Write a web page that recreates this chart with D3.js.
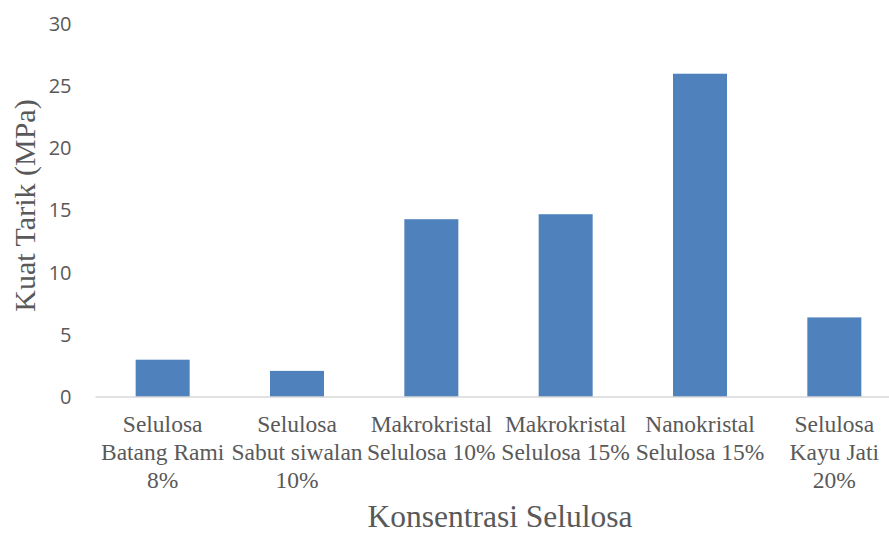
<!DOCTYPE html>
<html>
<head>
<meta charset="utf-8">
<script src="https://cdn.jsdelivr.net/npm/d3@7"></script>
<style>
  body { margin: 0; background: #fff; }
  svg { display: block; }
</style>
</head>
<body>
<div id="chart"></div>
<script>
// data
var categories = [
    ["Selulosa", "Batang Rami", "8%"],
    ["Selulosa", "Sabut siwalan", "10%"],
    ["Makrokristal", "Selulosa 10%"],
    ["Makrokristal", "Selulosa 15%"],
    ["Nanokristal", "Selulosa 15%"],
    ["Selulosa", "Kayu Jati", "20%"]
];
var values = [3.0, 2.1, 14.3, 14.7, 26.0, 6.4];
var yTicks = [0, 5, 10, 15, 20, 25, 30];
var yTitle = "Kuat Tarik (MPa)";
var xTitle = "Konsentrasi Selulosa";

var width = 889, height = 533;
var plotLeft = 95.5, plotRight = 901.5, plotTop = 24, plotBottom = 397;

var svg = d3.select("#chart").append("svg")
    .attr("width", width)
    .attr("height", height);

var x = d3.scaleBand()
    .domain(d3.range(categories.length))
    .range([plotLeft, plotRight])
    .paddingInner(0.598)
    .paddingOuter(0.299);

var y = d3.scaleLinear().domain([0, 30]).range([plotBottom, plotTop]);

// y axis labels only
var yAxis = d3.axisLeft(y).tickValues(yTicks).tickSize(0).tickPadding(24);
var gy = svg.append("g")
    .attr("transform", "translate(" + plotLeft + ",0)")
    .call(yAxis);
gy.select(".domain").remove();
gy.selectAll("text")
    .attr("fill", "#595959")
    .style("font-family", "'Open Sans', sans-serif")
    .style("font-size", "20px");

// bars
svg.selectAll("rect.bar")
    .data(values)
    .enter().append("rect")
    .attr("class", "bar")
    .attr("x", function (d, i) { return x(i); })
    .attr("width", x.bandwidth())
    .attr("y", function (d) { return y(d); })
    .attr("height", function (d) { return y(0) - y(d); })
    .attr("fill", "#4f81bd");

// baseline
svg.append("line")
    .attr("x1", plotLeft).attr("x2", plotRight)
    .attr("y1", y(0)).attr("y2", y(0))
    .attr("stroke", "#d9d9d9")
    .attr("stroke-width", 1.5);

// category labels
var cat = svg.selectAll("text.cat")
    .data(categories)
    .enter().append("text")
    .attr("class", "cat")
    .attr("text-anchor", "middle")
    .attr("fill", "#595959")
    .style("font-family", "'Liberation Serif', 'Times New Roman', serif")
    .style("font-size", "23.5px");
cat.selectAll("tspan")
    .data(function (d, i) { return d.map(function (s) { return {s: s, i: i}; }); })
    .enter().append("tspan")
    .attr("x", function (d) { return x(d.i) + x.bandwidth() / 2; })
    .attr("y", function (d, j) { return 432 + j * 28; })
    .text(function (d) { return d.s; });

// axis titles
svg.append("text")
    .attr("x", 500)
    .attr("y", 527)
    .attr("text-anchor", "middle")
    .attr("fill", "#595959")
    .style("font-family", "'Liberation Serif', 'Times New Roman', serif")
    .style("font-size", "31.5px")
    .text(xTitle);

svg.append("text")
    .attr("transform", "translate(35,205.5) rotate(-90)")
    .attr("text-anchor", "middle")
    .attr("fill", "#595959")
    .style("font-family", "'Liberation Serif', 'Times New Roman', serif")
    .style("font-size", "30px")
    .text(yTitle);
</script>
</body>
</html>
